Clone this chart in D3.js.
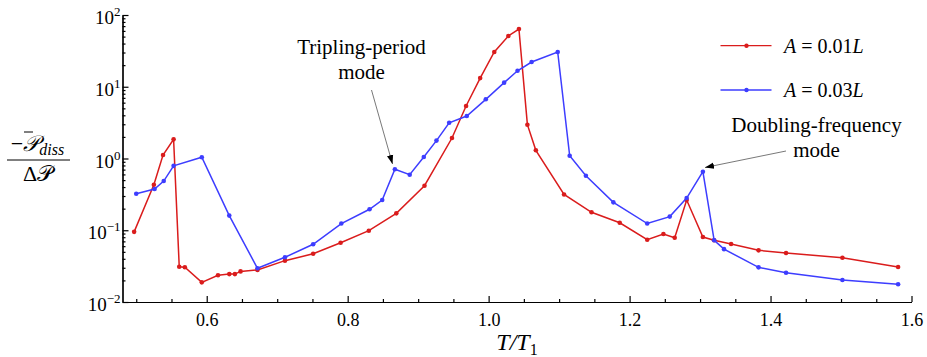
<!DOCTYPE html>
<html>
<head>
<meta charset="utf-8">
<script src="https://cdn.jsdelivr.net/npm/d3@7"></script>
<style>
    body { margin: 0; background: #fff; }
    svg text { font-family: 'Liberation Serif', 'Times New Roman', 'DejaVu Serif', serif !important; fill: #000; }
    .axis path, .axis line { stroke: #000; stroke-width: 1.2; }
</style>
</head>
<body>
<div id="chart"></div>
<script>

// ---- data ----
const tRed = [0.497, 0.525, 0.538, 0.553, 0.561, 0.569, 0.593, 0.616, 0.632, 0.640, 0.648, 0.672,
    0.711, 0.751, 0.790, 0.830, 0.869, 0.909, 0.948, 0.968, 0.988, 1.008, 1.028, 1.043, 1.055, 1.067,
    1.107, 1.146, 1.186, 1.225, 1.248, 1.264, 1.281, 1.304, 1.320, 1.344, 1.383, 1.422, 1.502, 1.581];
const pRed = [0.095, 0.43, 1.12, 1.85, 0.031, 0.0305, 0.0188, 0.0236, 0.0245, 0.0245, 0.0267, 0.028,
    0.0377, 0.047, 0.067, 0.0986, 0.172, 0.418, 1.93, 5.39, 13.2, 30.5, 51, 63.8, 2.96, 1.30,
    0.315, 0.178, 0.127, 0.0738, 0.0887, 0.0787, 0.264, 0.0805, 0.0724, 0.0643, 0.0525, 0.0482, 0.0414, 0.0307];

const tBlue = [0.500, 0.526, 0.539, 0.553, 0.593, 0.632, 0.672, 0.711, 0.751, 0.791, 0.831, 0.849,
    0.867, 0.888, 0.908, 0.926, 0.944, 0.969, 0.996, 1.022, 1.041, 1.061, 1.098, 1.115, 1.138, 1.177,
    1.225, 1.257, 1.281, 1.304, 1.320, 1.334, 1.383, 1.422, 1.502, 1.581];
const pBlue = [0.323, 0.376, 0.485, 0.79, 1.04, 0.16, 0.0295, 0.042, 0.0637, 0.124, 0.196, 0.264,
    0.707, 0.594, 1.05, 1.775, 3.15, 3.91, 6.68, 11.4, 16.7, 22.1, 30.5, 1.09, 0.576, 0.245,
    0.124, 0.155, 0.281, 0.655, 0.0724, 0.0545, 0.0304, 0.0256, 0.0203, 0.0177];

const seriesNames = ["0.01", "0.03"];
const xTicks = [0.6, 0.8, 1.0, 1.2, 1.4, 1.6];
const xMinor = [0.5, 0.55, 0.65, 0.7, 0.75, 0.85, 0.9, 0.95, 1.05, 1.1, 1.15, 1.25, 1.3, 1.35, 1.45, 1.5, 1.55];
const yExponents = [-2, -1, 0, 1, 2];

// ---- layout ----
const W = 927, H = 357;
const margin = {top: 15, right: 15, bottom: 55, left: 122.5};
const width = W - margin.left - margin.right;
const height = H - margin.top - margin.bottom;

const red = "#da1c1c";
const blue = "#3d3dff";
const serif = "'Liberation Serif', 'Times New Roman', serif";

const svg = d3.select("#chart").append("svg")
    .attr("width", W)
    .attr("height", H)
    .attr("font-family", serif);

const g = svg.append("g")
    .attr("transform", "translate(" + margin.left + "," + margin.top + ")");

// scales
const x = d3.scaleLinear().domain([0.4805, 1.6]).range([0, width - 0.5]);
const y = d3.scaleLog().domain([0.01, 100]).range([height, 0]);

// x axis (ticks point inward)
g.append("g")
    .attr("class", "axis")
    .attr("transform", "translate(0," + height + ")")
    .call(d3.axisBottom(x).tickValues(xMinor).tickSize(-3).tickSizeOuter(0).tickFormat(""));

const xAxisG = g.append("g")
    .attr("class", "axis")
    .attr("transform", "translate(0," + height + ")")
    .call(d3.axisBottom(x).tickValues(xTicks).tickSize(-6).tickSizeOuter(0).tickPadding(11)
        .tickFormat(d3.format(".1f")));
xAxisG.attr("font-family", serif).attr("font-size", 18);

// y axis, log minor ticks
let yMinor = [];
yExponents.slice(0, -1).forEach(e => {
    for (let k = 2; k <= 9; k++) yMinor.push(k * Math.pow(10, e));
});

g.append("g")
    .attr("class", "axis")
    .call(d3.axisLeft(y).tickValues(yMinor).tickSize(-3).tickSizeOuter(0).tickFormat(""));

g.append("g")
    .attr("class", "axis")
    .call(d3.axisLeft(y).tickValues(yExponents.map(e => Math.pow(10, e))).tickSize(-6).tickSizeOuter(0).tickFormat(""));

// y tick labels 10^n
const yLab = g.append("g").selectAll("text")
    .data(yExponents)
    .join("text")
    .attr("x", -2)
    .attr("y", d => y(Math.pow(10, d)) + 9)
    .attr("text-anchor", "end")
    .attr("font-size", 19);
yLab.append("tspan").text("10");
yLab.append("tspan")
    .attr("dy", -8)
    .attr("font-size", 13)
    .text(d => d < 0 ? "\u2212" + (-d) : d);

// ---- lines ----
const line = d3.line()
    .x(d => x(d[0]))
    .y(d => y(d[1]));

const series = [
    {color: red, pts: d3.zip(tRed, pRed)},
    {color: blue, pts: d3.zip(tBlue, pBlue)}
];

series.forEach(s => {
    g.append("path")
        .datum(s.pts)
        .attr("fill", "none")
        .attr("stroke", s.color)
        .attr("stroke-width", 1.5)
        .attr("d", line);

    g.append("g").selectAll("circle")
        .data(s.pts)
        .join("circle")
        .attr("cx", d => x(d[0]))
        .attr("cy", d => y(d[1]))
        .attr("r", 2.3)
        .attr("fill", s.color);
});

// ---- legend ----
const legend = svg.append("g");
[red, blue].forEach((c, i) => {
    const ly = 45.7 + i * 44.3;
    legend.append("line")
        .attr("x1", 720.5).attr("x2", 771.5)
        .attr("y1", ly).attr("y2", ly)
        .attr("stroke", c).attr("stroke-width", 1.3);
    legend.append("circle")
        .attr("cx", 746.5).attr("cy", ly).attr("r", 2.2)
        .attr("fill", c);
    const t = legend.append("text")
        .attr("x", 784)
        .attr("y", ly + 7)
        .attr("font-size", 20);
    t.append("tspan").attr("font-style", "italic").text("A");
    t.append("tspan").text(" = " + seriesNames[i]);
    t.append("tspan").attr("font-style", "italic").text("L");
});

// ---- annotations ----
svg.append("defs").append("marker")
    .attr("id", "arrow")
    .attr("viewBox", "0 0 10 10")
    .attr("refX", 10).attr("refY", 5)
    .attr("markerWidth", 9).attr("markerHeight", 9)
    .attr("markerUnits", "userSpaceOnUse")
    .attr("orient", "auto")
    .append("path")
    .attr("d", "M0,1.5 L10,5 L0,8.5 Z")
    .attr("fill", "#000");

function note(lines, cx, cy, from, to) {
    const t = svg.append("text")
        .attr("text-anchor", "middle")
        .attr("font-size", 21);
    lines.forEach((s, i) => {
        t.append("tspan").attr("x", cx).attr("y", cy + i * 25).text(s);
    });
    svg.append("line")
        .attr("x1", from[0]).attr("y1", from[1])
        .attr("x2", to[0]).attr("y2", to[1])
        .attr("stroke", "#555")
        .attr("stroke-width", 0.8)
        .attr("marker-end", "url(#arrow)");
}

note(["Tripling-period", "mode"], 361.5, 54, [371.5, 90], [392.5, 164]);
note(["Doubling-frequency", "mode"], 816.5, 132, [786, 151], [705, 167.5]);

// ---- axis titles ----
const xt = svg.append("text")
    .attr("x", 517)
    .attr("y", 350)
    .attr("text-anchor", "middle")
    .attr("font-size", 24);
xt.append("tspan").attr("font-style", "italic").text("T/T");
xt.append("tspan").attr("dy", 5).attr("font-size", 16).text("1");

// y title as a fraction
const yt = svg.append("g");
const num = yt.append("text")
    .attr("x", 37.5)
    .attr("y", 151)
    .attr("text-anchor", "middle")
    .attr("font-size", 22);
num.append("tspan").text("\u2212");
num.append("tspan").attr("font-style", "italic").text("\uD835\uDCAB");
num.append("tspan").attr("font-style", "italic").attr("font-size", 16).attr("dy", 4).text("diss");

// bar over the P
yt.append("line")
    .attr("x1", 24).attr("x2", 33)
    .attr("y1", 132).attr("y2", 132)
    .attr("stroke", "#000").attr("stroke-width", 1);

yt.append("line")
    .attr("x1", 7).attr("x2", 70)
    .attr("y1", 160).attr("y2", 160)
    .attr("stroke", "#000").attr("stroke-width", 1);

yt.append("text")
    .attr("x", 38)
    .attr("y", 181)
    .attr("text-anchor", "middle")
    .attr("font-size", 22)
    .text("\u0394\uD835\uDCAB");

</script>
</body>
</html>
